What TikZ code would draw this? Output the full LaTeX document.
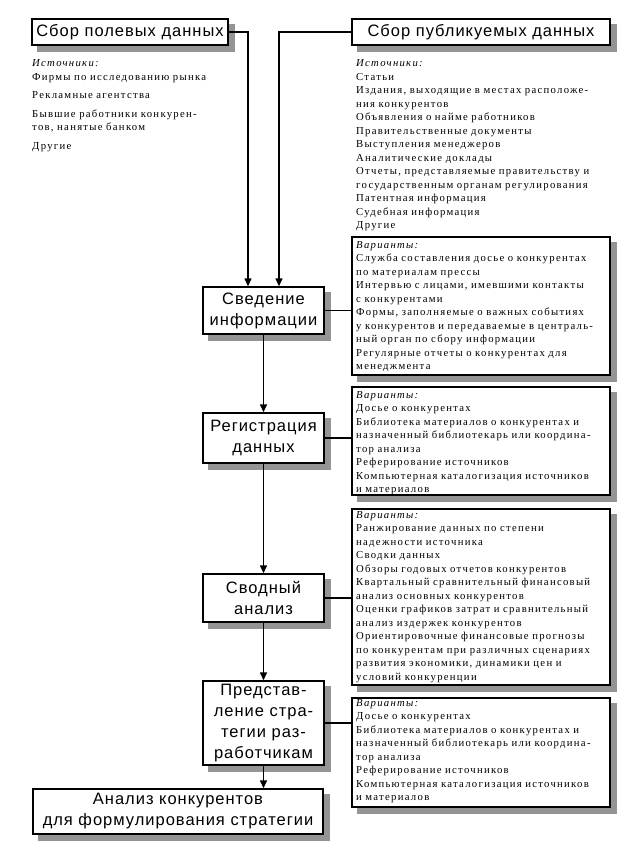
\documentclass[tikz,border=0pt]{standalone}
\usepackage{fontspec}
\setmainfont{Liberation Serif}[LetterSpace=12]
\newfontfamily\boxfont{Liberation Sans}[LetterSpace=6]
\usetikzlibrary{backgrounds,arrows.meta}
\tikzset{
  shbox/.style={draw=black, line width=1.4pt, fill=white,
    inner sep=0pt, align=center, font=\boxfont\fontsize{16.5}{21}\selectfont},
  varbox/.style={draw=black, line width=1.2pt, fill=white, inner sep=0pt},
  shadowfill/.style={fill=black!42},
  listtext/.style={anchor=base west, inner sep=0pt, text width=300pt, align=left,
    font=\fontsize{10.7}{13.5}\selectfont},
  conn/.style={line width=1.4pt},
  arr/.style={conn, -{Triangle[length=8pt,width=7pt]}}
}
\begin{document}
\begin{tikzpicture}[x=1pt,y=-1pt]
\useasboundingbox (0,0) rectangle (622,841);

% top boxes
\node[shbox, minimum width=196pt, minimum height=26pt] (field) at (130,32) {Сбор полевых данных};
\node[shbox, minimum width=258pt, minimum height=26pt] (publ) at (481,32) {Сбор публикуемых данных};

% flow boxes
\node[shbox, minimum width=121pt, minimum height=47pt] (sved) at (263.5,310.5) {Сведение\\информации};
\node[shbox, minimum width=121pt, minimum height=50pt] (reg) at (263.5,438) {Регистрация\\данных};
\node[shbox, minimum width=121pt, minimum height=48pt] (svod) at (263.5,598) {Сводный\\анализ};
\node[shbox, minimum width=121pt, minimum height=84pt] (pred) at (263.5,723) {Представ-\\ление стра-\\тегии раз-\\работчикам};
\node[shbox, minimum width=290pt, minimum height=45pt] (anal) at (178,811.5) {Анализ конкурентов\\для формулирования стратегии};

% variant boxes
\node[varbox, minimum width=258pt, minimum height=138pt] (var1) at (481,306) {};
\node[varbox, minimum width=258pt, minimum height=108pt] (var2) at (481,441) {};
\node[varbox, minimum width=258pt, minimum height=176pt] (var3) at (481,597) {};
\node[varbox, minimum width=258pt, minimum height=109pt] (var4) at (481,752.5) {};

% shadows
\begin{scope}[on background layer]
\foreach \n in {field,publ,sved,reg,svod,pred,anal,var1,var2,var3,var4}{
  \fill[shadowfill] ([shift={(6,6)}]\n.south west) rectangle ([shift={(6,6)}]\n.north east);
}
\end{scope}

% source lists
\node[listtext] (srcL) at (32,66.5) {\textit{Источники:}\\
Фирмы по исследованию рынка\\[5pt]
Рекламные агентства\\[5pt]
Бывшие работники конкурен-\\
тов, нанятые банком\\[5pt]
Другие};

\node[listtext] (srcR) at (356,66.5) {\textit{Источники:}\\
Статьи\\
Издания, выходящие в местах расположе-\\
ния конкурентов\\
Объявления о найме работников\\
Правительственные документы\\
Выступления менеджеров\\
Аналитические доклады\\
Отчеты, представляемые правительству и\\
государственным органам регулирования\\
Патентная информация\\
Судебная информация\\
Другие};

% variant texts
\node[listtext] (t1) at (356,248) {\textit{Варианты:}\\
Служба составления досье о конкурентах\\
по материалам прессы\\
Интервью с лицами, имевшими контакты\\
с конкурентами\\
Формы, заполняемые о важных событиях\\
у конкурентов и передаваемые в централь-\\
ный орган по сбору информации\\
Регулярные отчеты о конкурентах для\\
менеджмента};

\node[listtext] (t2) at (356,398) {\textit{Варианты:}\\
Досье о конкурентах\\
Библиотека материалов о конкурентах и\\
назначенный библиотекарь или координа-\\
тор анализа\\
Реферирование источников\\
Компьютерная каталогизация источников\\
и материалов};

\node[listtext] (t3) at (356,518) {\textit{Варианты:}\\
Ранжирование данных по степени\\
надежности источника\\
Сводки данных\\
Обзоры годовых отчетов конкурентов\\
Квартальный сравнительный финансовый\\
анализ основных конкурентов\\
Оценки графиков затрат и сравнительный\\
анализ издержек конкурентов\\
Ориентировочные финансовые прогнозы\\
по конкурентам при различных сценариях\\
развития экономики, динамики цен и\\
условий конкуренции};

\node[listtext] (t4) at (356,706) {\textit{Варианты:}\\
Досье о конкурентах\\
Библиотека материалов о конкурентах и\\
назначенный библиотекарь или координа-\\
тор анализа\\
Реферирование источников\\
Компьютерная каталогизация источников\\
и материалов};

% connectors
\coordinate (inL) at ([xshift=-15.5pt]sved.north);
\coordinate (inR) at ([xshift=15.5pt]sved.north);
\draw[arr] (field.east) -| (inL);
\draw[arr] (publ.west) -| (inR);
\draw[arr] (sved.south) -- (reg.north);
\draw[arr] (reg.south) -- (svod.north);
\draw[arr] (svod.south) -- (pred.north);
\draw[arr] (pred.south) -- (pred.south |- anal.north);
\draw[conn] (sved.east) -- (sved.east -| var1.west);
\draw[conn] (reg.east) -- (reg.east -| var2.west);
\draw[conn] (svod.east) -- (svod.east -| var3.west);
\draw[conn] (pred.east) -- (pred.east -| var4.west);
\end{tikzpicture}
\end{document}
